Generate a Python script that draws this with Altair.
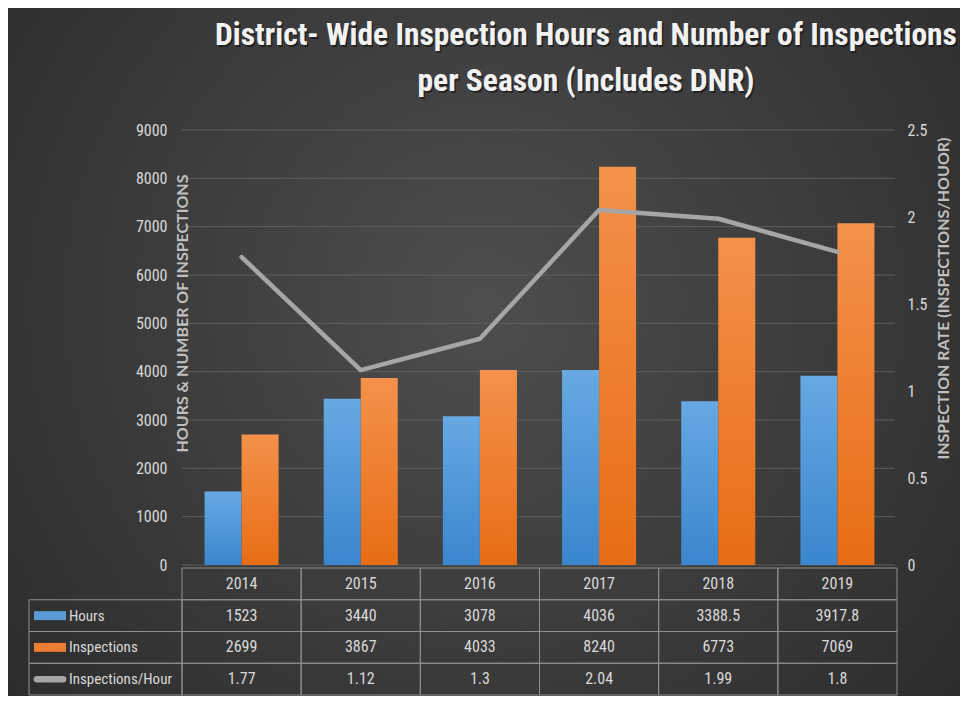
import altair as alt
import pandas as pd

# ---------------- data ----------------
years = ["2014", "2015", "2016", "2017", "2018", "2019"]
hours = [1523, 3440, 3078, 4036, 3388.5, 3917.8]
inspections = [2699, 3867, 4033, 8240, 6773, 7069]
rate = [1.77, 1.12, 1.3, 2.04, 1.99, 1.8]
left_ticks = [0, 1000, 2000, 3000, 4000, 5000, 6000, 7000, 8000, 9000]
right_ticks = [0, 0.5, 1, 1.5, 2, 2.5]
series_names = ["Hours", "Inspections", "Inspections/Hour"]
title_lines = ["District- Wide Inspection Hours and Number of Inspections",
               "per Season (Includes DNR)"]

# ---------------- layout / style ----------------
W, H = 715, 435
PAD = {"left": 174, "top": 122, "right": 63, "bottom": 131}
NARROW = "Roboto Condensed, Liberation Sans Narrow, DejaVu Sans Condensed, sans-serif"
BOLD = "Lato, Liberation Sans, sans-serif"
TXT = "#d9d9d9"
GRID = "#5e5e5e"
BORDER = "#8f8f8f"
BLUE_G = {"gradient": "linear", "x1": 0, "x2": 0, "y1": 0, "y2": 1,
          "stops": [{"offset": 0, "color": "#66a9e3"}, {"offset": 1, "color": "#3a86cd"}]}
ORANGE_G = {"gradient": "linear", "x1": 0, "x2": 0, "y1": 0, "y2": 1,
            "stops": [{"offset": 0, "color": "#f4914a"}, {"offset": 1, "color": "#e76d15"}]}
BG_G = {"gradient": "radial", "x1": 0.5, "y1": 0.45, "r1": 0, "x2": 0.5, "y2": 0.45, "r2": 0.75,
        "stops": [{"offset": 0, "color": "#4e4e4e"}, {"offset": 1, "color": "#272727"}]}

# ---------------- tables ----------------
bars_df = pd.DataFrame(
    [{"year": y, "series": "Hours", "value": v} for y, v in zip(years, hours)]
    + [{"year": y, "series": "Inspections", "value": v} for y, v in zip(years, inspections)]
)
line_df = pd.DataFrame({"year": years, "rate": rate})
grid_df = pd.DataFrame({"v": left_ticks})
bg_df = pd.DataFrame({"a": [0]})

row_order = ["hdr"] + series_names
fmt = lambda v: f"{v:g}"
tbl_rows = []
for i, y in enumerate(years):
    tbl_rows.append({"year": y, "row": "hdr", "txt": y})
    tbl_rows.append({"year": y, "row": "Hours", "txt": fmt(hours[i])})
    tbl_rows.append({"year": y, "row": "Inspections", "txt": fmt(inspections[i])})
    tbl_rows.append({"year": y, "row": "Inspections/Hour", "txt": fmt(rate[i])})
tbl_df = pd.DataFrame(tbl_rows)
lab_df = pd.DataFrame({"row": series_names, "name": series_names})

x_enc = alt.X("year:O", scale=alt.Scale(type="band", domain=years, paddingInner=0, paddingOuter=0), axis=None)
xoff = alt.XOffset("series:N", scale=alt.Scale(domain=["Hours", "Inspections"], paddingInner=0, paddingOuter=0.61))
y_left = alt.Scale(domain=[0, 9000], nice=False, zero=True)
y_tbl = alt.Y("row:N", scale=alt.Scale(type="band", domain=row_order, range=[438, 565],
                                       paddingInner=0, paddingOuter=0), axis=None)

# ---------------- layer A: background, title, grid, bars ----------------
bg = alt.Chart(bg_df).mark_rect(fill=BG_G, stroke=None).encode(
    x=alt.value(-PAD["left"]), x2=alt.value(W + PAD["right"]),
    y=alt.value(-PAD["top"]), y2=alt.value(H + PAD["bottom"]))

title_kw = dict(text=title_lines, font=NARROW, fontSize=31.5, fontWeight="bold", lineHeight=46,
                align="center", baseline="alphabetic")
title_shadow = alt.Chart(bg_df).mark_text(color="#111111", opacity=0.6, **title_kw).encode(
    x=alt.value(405.5), y=alt.value(-83.5))
title = alt.Chart(bg_df).mark_text(color="#f2f2f2", **title_kw).encode(
    x=alt.value(404), y=alt.value(-85))

grid = alt.Chart(grid_df).mark_rule(color=GRID, strokeWidth=1).encode(
    y=alt.Y("v:Q", scale=y_left,
            axis=alt.Axis(values=left_ticks, format="d", grid=False, ticks=False, domain=False,
                          labelColor=TXT, labelFontSize=16, labelFont=NARROW, labelPadding=15,
                          title="HOURS & NUMBER OF INSPECTIONS", titleFont=BOLD, titleFontSize=16,
                          titleFontWeight="bold", titleColor="#bfbfbf", titleX=8, titleY=183,
                          titleAngle=270, zindex=1)),
    x=alt.value(0), x2=alt.value(W - 2))

bar_base = alt.Chart(bars_df)
bar_h = bar_base.transform_filter(alt.datum.series == "Hours").mark_bar(color=BLUE_G).encode(
    x=x_enc, xOffset=xoff, y=alt.Y("value:Q", scale=y_left))
bar_i = bar_base.transform_filter(alt.datum.series == "Inspections").mark_bar(color=ORANGE_G).encode(
    x=x_enc, xOffset=xoff, y=alt.Y("value:Q", scale=y_left))

layer_a = alt.layer(bg, title_shadow, title, grid, bar_h, bar_i)

# ---------------- layer B: rate line ----------------
line = alt.Chart(line_df).mark_line(color="#a6a6a6", strokeWidth=4.5, strokeCap="round",
                                    strokeJoin="round").encode(
    x=x_enc,
    y=alt.Y("rate:Q", scale=alt.Scale(domain=[0, 2.5], nice=False),
            axis=alt.Axis(orient="right", values=right_ticks, format=".1~f", grid=False, ticks=False,
                          domain=False, labelColor=TXT, labelFontSize=16, labelFont=NARROW,
                          labelPadding=10, title="INSPECTION RATE (INSPECTIONS/HOUOR)",
                          titleFont=BOLD, titleFontSize=16, titleFontWeight="bold",
                          titleColor="#bfbfbf", titleX=54, titleY=168, titleAngle=270, zindex=1)))

# ---------------- layer C: data table ----------------
cells = alt.Chart(tbl_df).mark_rect(fillOpacity=0, stroke=BORDER, strokeWidth=1).encode(
    x=x_enc, y=y_tbl)
lab_cells = alt.Chart(lab_df).mark_rect(fillOpacity=0, stroke=BORDER, strokeWidth=1).encode(
    x=alt.value(-153), x2=alt.value(0), y=y_tbl)
cell_txt = alt.Chart(tbl_df).mark_text(color=TXT, fontSize=16, font=NARROW).encode(
    x=x_enc, y=y_tbl, text="txt:N")
lab_txt = alt.Chart(lab_df).mark_text(color=TXT, fontSize=15, font=NARROW, align="left").encode(
    x=alt.value(-113), y=y_tbl, text="name:N")
sw_rect = alt.Chart(lab_df).transform_filter(alt.datum.name != "Inspections/Hour").mark_point(
    shape="M-1,-0.28H1V0.28H-1Z", filled=True, size=1024, opacity=1, strokeWidth=0).encode(
    x=alt.value(-132), y=y_tbl,
    color=alt.Color("name:N", scale=alt.Scale(domain=["Hours", "Inspections"],
                                              range=["#5b9bd5", "#ed7d31"]), legend=None))
sw_line = alt.Chart(lab_df).transform_filter(alt.datum.name == "Inspections/Hour").mark_point(
    shape="M-0.82,0H0.82", filled=False, size=1024, opacity=1, strokeWidth=6.5, strokeCap="round",
    color="#a6a6a6").encode(x=alt.value(-132), y=y_tbl)

layer_c = alt.layer(cells, lab_cells, cell_txt, lab_txt, sw_rect, sw_line)

chart = alt.layer(layer_a, line, layer_c).resolve_scale(y="independent").properties(
    width=W, height=H,
    autosize=alt.AutoSizeParams(type="none"),
    padding=PAD,
    background="#333333",
).configure_view(stroke=None)

chart.save("out.html", embed_options={"renderer": "svg", "actions": False})
